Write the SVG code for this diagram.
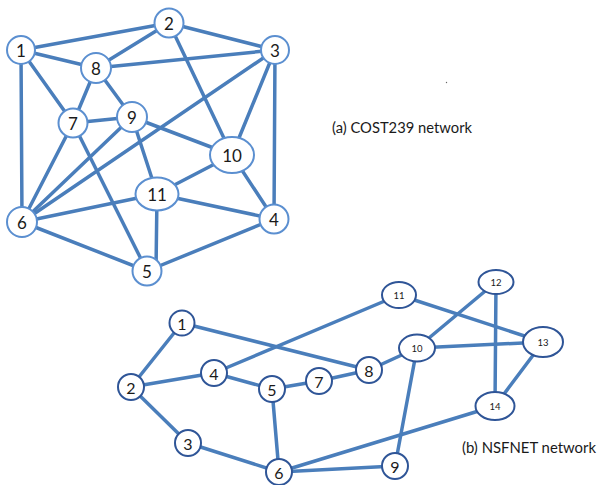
<svg xmlns="http://www.w3.org/2000/svg" width="597" height="485" viewBox="0 0 597 485">
<style>
.e{stroke:#4a7ebb;stroke-width:3.5;fill:none;stroke-linecap:round}
.na{fill:#fff;stroke:#5b8fd0;stroke-width:2}
.nb{fill:#fff;stroke:#2f5597;stroke-width:2}
.t{font-family:Lato,"Open Sans","Liberation Sans",sans-serif;font-size:17px;fill:#1a1a1a;text-anchor:middle;dominant-baseline:central}
.tb{font-family:Lato,"Open Sans","Liberation Sans",sans-serif;font-size:16px;fill:#1a1a1a;text-anchor:middle;dominant-baseline:central}
.ts{font-family:Lato,"Open Sans","Liberation Sans",sans-serif;font-size:9.5px;fill:#1a1a1a;text-anchor:middle;dominant-baseline:central}
.cap{font-family:Lato,"Open Sans","Liberation Sans",sans-serif;font-size:14.5px;fill:#1a1a1a;dominant-baseline:central}
</style>
<rect width="597" height="485" fill="#fff"/>
<g id="connectors">
<!-- (a) COST239 -->
<line class="e" x1="21" y1="50" x2="169" y2="23"/>
<line class="e" x1="169" y1="23" x2="275" y2="50"/>
<line class="e" x1="21" y1="50" x2="96" y2="68"/>
<line class="e" x1="169" y1="23" x2="96" y2="68"/>
<line class="e" x1="96" y1="68" x2="275" y2="50"/>
<line class="e" x1="21" y1="50" x2="73" y2="123"/>
<line class="e" x1="96" y1="68" x2="73" y2="123"/>
<line class="e" x1="96" y1="68" x2="132" y2="117"/>
<line class="e" x1="73" y1="123" x2="132" y2="117"/>
<line class="e" x1="21" y1="50" x2="22" y2="222"/>
<line class="e" x1="169" y1="23" x2="232" y2="155"/>
<line class="e" x1="275" y1="50" x2="232" y2="155"/>
<line class="e" x1="275" y1="50" x2="274" y2="219"/>
<line class="e" x1="275" y1="50" x2="22" y2="222"/>
<line class="e" x1="132" y1="117" x2="232" y2="155"/>
<line class="e" x1="132" y1="117" x2="22" y2="222"/>
<line class="e" x1="132" y1="117" x2="157" y2="194"/>
<line class="e" x1="73" y1="123" x2="22" y2="222"/>
<line class="e" x1="73" y1="123" x2="147" y2="271"/>
<line class="e" x1="232" y1="155" x2="157" y2="194"/>
<line class="e" x1="232" y1="155" x2="274" y2="219"/>
<line class="e" x1="157" y1="194" x2="22" y2="222"/>
<line class="e" x1="157" y1="194" x2="274" y2="219"/>
<line class="e" x1="157" y1="194" x2="156" y2="271"/>
<line class="e" x1="22" y1="222" x2="147" y2="271"/>
<line class="e" x1="147" y1="271" x2="274" y2="219"/>
<!-- (b) NSFNET -->
<line class="e" x1="182" y1="323" x2="131" y2="387"/>
<line class="e" x1="182" y1="323" x2="369" y2="370"/>
<line class="e" x1="131" y1="387" x2="214" y2="373"/>
<line class="e" x1="131" y1="387" x2="188" y2="443"/>
<line class="e" x1="214" y1="373" x2="399" y2="295"/>
<line class="e" x1="214" y1="373" x2="272" y2="389"/>
<line class="e" x1="272" y1="389" x2="319" y2="381"/>
<line class="e" x1="319" y1="381" x2="369" y2="370"/>
<line class="e" x1="369" y1="370" x2="417" y2="348"/>
<line class="e" x1="272" y1="389" x2="279" y2="472"/>
<line class="e" x1="188" y1="443" x2="279" y2="472"/>
<line class="e" x1="279" y1="472" x2="395" y2="466"/>
<line class="e" x1="279" y1="472" x2="495" y2="406"/>
<line class="e" x1="417" y1="348" x2="496" y2="282"/>
<line class="e" x1="417" y1="348" x2="543" y2="342"/>
<line class="e" x1="417" y1="348" x2="395" y2="466"/>
<line class="e" x1="399" y1="295" x2="543" y2="342"/>
<line class="e" x1="496" y1="282" x2="495" y2="406"/>
<line class="e" x1="543" y1="342" x2="495" y2="406"/>
</g>
<g id="a1"><circle class="na" cx="21" cy="50" r="14"/><text class="t" x="21" y="50">1</text></g>
<g id="a2"><circle class="na" cx="169" cy="23" r="14.5"/><text class="t" x="169" y="23">2</text></g>
<g id="a3"><circle class="na" cx="275" cy="50" r="14"/><text class="t" x="275" y="50">3</text></g>
<g id="a4"><circle class="na" cx="274" cy="219" r="14.5"/><text class="t" x="274" y="219">4</text></g>
<g id="a5"><circle class="na" cx="147" cy="271" r="14.5"/><text class="t" x="147" y="271">5</text></g>
<g id="a6"><circle class="na" cx="22" cy="222" r="15"/><text class="t" x="22" y="222">6</text></g>
<g id="a7"><circle class="na" cx="73" cy="123" r="14.5"/><text class="t" x="73" y="123">7</text></g>
<g id="a8"><circle class="na" cx="96" cy="68" r="15"/><text class="t" x="96" y="68">8</text></g>
<g id="a9"><circle class="na" cx="132" cy="117" r="15"/><text class="t" x="132" y="117">9</text></g>
<g id="a10"><ellipse class="na" cx="232" cy="155" rx="22" ry="18"/><text class="t" x="232" y="155">10</text></g>
<g id="a11"><ellipse class="na" cx="157" cy="194" rx="21.5" ry="16.5"/><text class="t" x="157" y="194">11</text></g>
<g id="b1"><circle class="nb" cx="182" cy="323" r="12.5"/><text class="tb" x="182" y="323">1</text></g>
<g id="b2"><circle class="nb" cx="131" cy="387" r="13"/><text class="tb" x="131" y="387">2</text></g>
<g id="b3"><circle class="nb" cx="188" cy="443" r="13"/><text class="tb" x="188" y="443">3</text></g>
<g id="b4"><circle class="nb" cx="214" cy="373" r="13"/><text class="tb" x="214" y="373">4</text></g>
<g id="b5"><circle class="nb" cx="272" cy="389" r="13"/><text class="tb" x="272" y="389">5</text></g>
<g id="b6"><circle class="nb" cx="279" cy="472" r="13"/><text class="tb" x="279" y="472">6</text></g>
<g id="b7"><circle class="nb" cx="319" cy="381" r="13"/><text class="tb" x="319" y="381">7</text></g>
<g id="b8"><circle class="nb" cx="369" cy="370" r="13"/><text class="tb" x="369" y="370">8</text></g>
<g id="b9"><circle class="nb" cx="395" cy="466" r="13"/><text class="tb" x="395" y="466">9</text></g>
<g id="b10"><ellipse class="nb" cx="417" cy="348" rx="18" ry="13.5"/><text class="ts" x="417" y="348">10</text></g>
<g id="b11"><ellipse class="nb" cx="399" cy="295" rx="17" ry="13"/><text class="ts" x="399" y="295">11</text></g>
<g id="b12"><ellipse class="nb" cx="496" cy="282" rx="17.5" ry="12"/><text class="ts" x="496" y="282">12</text></g>
<g id="b13"><ellipse class="nb" cx="543" cy="342" rx="20" ry="15"/><text class="ts" x="543" y="342">13</text></g>
<g id="b14"><ellipse class="nb" cx="495" cy="406" rx="19.5" ry="14"/><text class="ts" x="495" y="406">14</text></g>
<text class="cap" x="332" y="127" textLength="140" lengthAdjust="spacingAndGlyphs">(a) COST239 network</text>
<text class="cap" x="462" y="447.5" textLength="134" lengthAdjust="spacingAndGlyphs">(b) NSFNET network</text>
<circle cx="446.5" cy="82.5" r="0.7" fill="#666"/>
</svg>
